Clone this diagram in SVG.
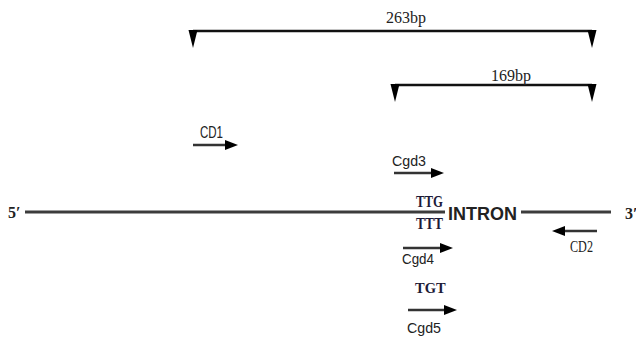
<svg xmlns="http://www.w3.org/2000/svg" width="636" height="339" viewBox="0 0 636 339">
<style>
.serif{font-family:"Liberation Serif","Times New Roman",serif;fill:#222;}
.sans{font-family:"Liberation Sans",Arial,sans-serif;fill:#222;}
.codon{font-family:"Liberation Serif","Times New Roman",serif;font-weight:bold;fill:#1d1b38;}
.dna{stroke:#3c3c3c;stroke-width:3;fill:none;}
.primer{stroke:#333;stroke-width:2.5;fill:none;marker-end:url(#head);}
.bracket{stroke:#111;stroke-width:2.5;fill:none;}
</style>
<defs>
<marker id="head" markerUnits="userSpaceOnUse" markerWidth="13" markerHeight="10" refX="7" refY="5" orient="auto">
<path d="M0,0 L13,5 L0,10 z" fill="#000"/>
</marker>
<path id="tick" d="M-4.5,0 L4.5,0 L0,18 z" fill="#000"/>
</defs>
<rect width="636" height="339" fill="#fff"/>

<g id="product-263bp">
<path class="bracket" d="M193,31 H592"/>
<use href="#tick" x="193" y="30"/>
<use href="#tick" x="592" y="30"/>
<text class="serif" x="406" y="23" font-size="16" text-anchor="middle">263bp</text>
</g>

<g id="product-169bp">
<path class="bracket" d="M395,85 H592"/>
<use href="#tick" x="395" y="84"/>
<use href="#tick" x="592" y="84"/>
<text class="serif" x="511" y="81" font-size="16" text-anchor="middle">169bp</text>
</g>

<g id="dna">
<text class="serif" x="8" y="218" font-size="16" font-weight="bold" fill="#333">5′</text>
<path class="dna" d="M25,212 H445"/>
<text class="codon" x="416" y="207" font-size="17" textLength="27" lengthAdjust="spacingAndGlyphs">TTG</text>
<text class="codon" x="416" y="229" font-size="17" textLength="27" lengthAdjust="spacingAndGlyphs">TTT</text>
<text class="sans" x="448" y="219.5" font-size="17.5" font-weight="600" fill="#111" textLength="69" lengthAdjust="spacingAndGlyphs">INTRON</text>
<path class="dna" d="M521,212 H611"/>
<text class="serif" x="625" y="219" font-size="16" font-weight="bold" fill="#333">3′</text>
</g>

<g id="connectors">
<g id="CD1">
<path class="primer" d="M193,145 H232"/>
<text class="sans" x="200" y="138" font-size="16" textLength="23" lengthAdjust="spacingAndGlyphs">CD1</text>
</g>
<g id="Cgd3">
<path class="primer" d="M394,173 H438"/>
<text class="sans" x="392" y="166" font-size="15" textLength="34" lengthAdjust="spacingAndGlyphs">Cgd3</text>
</g>
<g id="Cgd4">
<path class="primer" d="M403,248 H447"/>
<text class="sans" x="402" y="263.5" font-size="15" textLength="32" lengthAdjust="spacingAndGlyphs">Cgd4</text>
</g>
<g id="Cgd5">
<text class="codon" x="415" y="293" font-size="14.5">TGT</text>
<path class="primer" d="M408,310 H451"/>
<text class="sans" x="407" y="333" font-size="15" textLength="34" lengthAdjust="spacingAndGlyphs">Cgd5</text>
</g>
<g id="CD2">
<path class="primer" d="M597,231 H558"/>
<text class="serif" x="570" y="251.5" font-size="17" textLength="23" lengthAdjust="spacingAndGlyphs">CD2</text>
</g>
</g>
</svg>
